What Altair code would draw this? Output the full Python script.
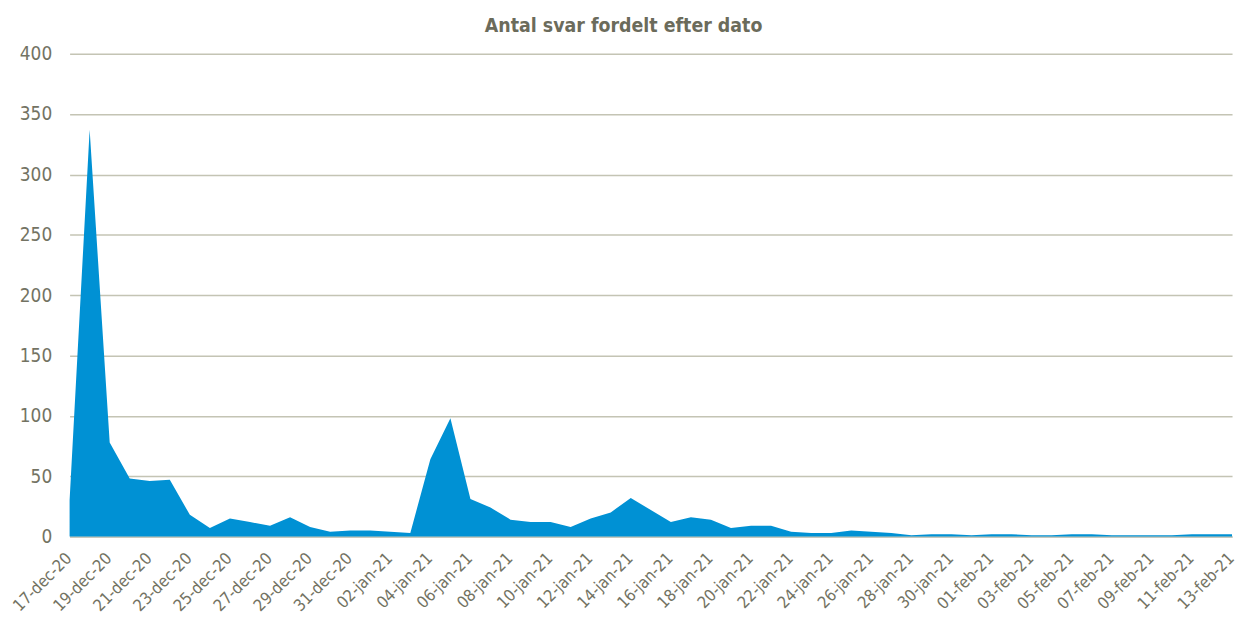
import altair as alt
import pandas as pd

MONTHS = {12: "dec", 1: "jan", 2: "feb"}
dates = pd.date_range("2020-12-17", "2021-02-13", freq="D")
labels = [f"{d.day:02d}-{MONTHS[d.month]}-{d.strftime('%y')}" for d in dates]

values = [30, 337, 78, 48, 46, 47, 18, 7, 15, 12,
          9, 16, 8, 4, 5, 5, 4, 3, 64, 98,
          31, 24, 14, 12, 12, 8, 15, 20, 32, 22,
          12, 16, 14, 7, 9, 9, 4, 3, 3, 5,
          4, 3, 1, 2, 2, 1, 2, 2, 1, 1,
          2, 2, 1, 1, 1, 1, 2, 2, 2]

tick_labels = labels[::2]
y_ticks = [0, 50, 100, 150, 200, 250, 300, 350, 400]

df = pd.DataFrame({"dato": labels, "antal": values})

FONT = "Liberation Sans Narrow, Arial Narrow, DejaVu Sans Condensed, sans-serif"
TXT = "#737363"

chart = alt.Chart(df).mark_area(color="#0091D4", opacity=1).encode(
    x=alt.X("dato:N", sort=None,
            scale=alt.Scale(type="point", padding=0),
            axis=alt.Axis(title=None, values=tick_labels, labelAngle=315,
                          labelAlign="right", labelBaseline="middle",
                          labelPadding=19, labelOffset=-1, ticks=False, domain=True,
                          domainColor="#c8c8bc", domainWidth=2,
                          labelFont=FONT, labelFontSize=16.5, labelColor=TXT,
                          labelOverlap=False, grid=False)),
    y=alt.Y("antal:Q", scale=alt.Scale(domain=[0, 400], nice=False),
            axis=alt.Axis(title=None, values=y_ticks, ticks=False, domain=False,
                          labelFont=FONT, labelFontSize=19, labelColor=TXT,
                          labelPadding=18, grid=True, gridColor="#c4c4b4",
                          gridWidth=1.5)),
).properties(
    width=1170, height=486,
    title=alt.TitleParams("Antal svar fordelt efter dato", font=FONT,
                          fontSize=19.5, fontWeight="bold", color="#6b6b5b",
                          anchor="middle", frame="bounds", offset=8),
    autosize=alt.AutoSizeParams(type="none"),
    padding={"left": 62, "top": 44, "right": 6, "bottom": 79},
).configure_view(stroke=None)

chart.save("out.html", embed_options={"renderer": "svg", "actions": False})
